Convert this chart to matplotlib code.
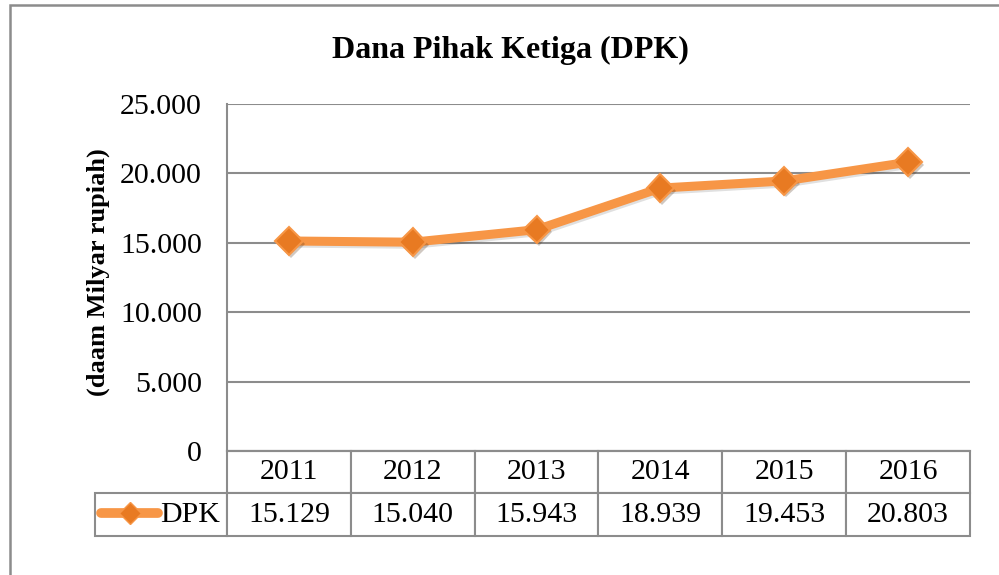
import matplotlib
matplotlib.use("Agg")
import matplotlib.pyplot as plt
import matplotlib.patheffects as pe
from matplotlib.patches import Rectangle

years = ["2011", "2012", "2013", "2014", "2015", "2016"]
dpk = [15129, 15040, 15943, 18939, 19453, 20803]
yticks = [0, 5000, 10000, 15000, 20000, 25000]
series_name = "DPK"


def fmt(v):
    # indonesian style: dot as thousands separator
    return f"{v:,}".replace(",", ".")


plt.rcParams['font.family'] = ['Liberation Serif', 'DejaVu Serif']

orange = '#F79646'
dark_orange = '#E87A22'
grey = '#8C8C8C'
fs = 21.5

fig = plt.figure(figsize=(9.99, 5.75), dpi=100)
ax = fig.add_axes([0.2272, 0.2157, 0.7437, 0.6035])

x = list(range(len(years)))
ax.plot(x, dpk, color=orange, lw=6.5, solid_capstyle='round', zorder=3,
        path_effects=[pe.SimpleLineShadow(offset=(1, -1.5), alpha=0.12), pe.Normal()])
ax.plot(x, dpk, linestyle='none', marker='D', markersize=14,
        markerfacecolor=dark_orange, markeredgecolor=orange, markeredgewidth=1.5, zorder=4,
        path_effects=[pe.SimplePatchShadow(offset=(1.5, -2), alpha=0.25), pe.Normal()])

ax.set_xlim(-0.5, len(years) - 0.5)
ax.set_ylim(0, 25000)
ax.set_yticks(yticks)
ax.set_yticklabels([fmt(v) for v in yticks])
ax.set_xticks([])
ax.tick_params(axis='y', length=0, pad=18, labelsize=fs)
ax.yaxis.grid(True, color=grey, lw=1.5)
ax.set_axisbelow(True)
for s in ['top', 'right']:
    ax.spines[s].set_visible(False)
for s in ['left', 'bottom']:
    ax.spines[s].set_color(grey)
    ax.spines[s].set_linewidth(1.5)

ax.set_ylabel("(daam Milyar rupiah)", fontsize=19, fontweight='bold')
ax.yaxis.set_label_coords(-0.157, 0.516)

# data table under the plot (bbox covers the data columns, row label sticks out left)
h = 85 / 347
tbl = ax.table(cellText=[[fmt(v) for v in dpk]], rowLabels=[series_name],
               colLabels=years, colWidths=[1 / 6] * 6,
               cellLoc='center', rowLoc='right',
               bbox=[0, -h, 1, h])
tbl._autoColumns = []
tbl[(1, -1)].set_width((132 / 124) / 6)
tbl.auto_set_font_size(False)
for (r, c), cell in tbl.get_celld().items():
    cell.set_edgecolor(grey)
    cell.set_linewidth(1.5)
    cell.get_text().set_fontsize(fs)
    cell.PAD = 0.05

# legend key inside the row label cell
ax.plot([-0.169, -0.093], [-0.179, -0.179], transform=ax.transAxes, clip_on=False,
        color=orange, lw=7, solid_capstyle='round', zorder=5)
ax.plot([-0.131], [-0.179], transform=ax.transAxes, clip_on=False, marker='D',
        markersize=11, markerfacecolor=dark_orange, markeredgecolor=orange, zorder=6)

fig.text(0.511, 0.913, "Dana Pihak Ketiga (DPK)", ha='center', va='center',
         fontsize=23, fontweight='bold')

# outer chart frame
fig.patches.append(Rectangle((10 / 999, -0.05), 1.2, 0.05 + 570 / 575,
                             transform=fig.transFigure, fill=False,
                             edgecolor=grey, lw=1.8))

fig.savefig("out.png", dpi=100)
